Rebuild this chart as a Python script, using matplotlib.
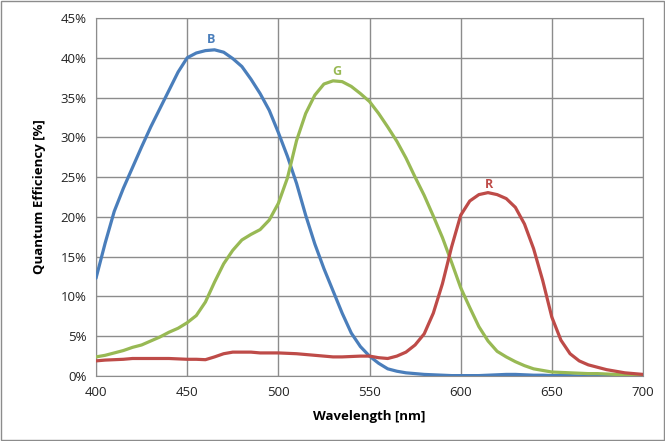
import matplotlib.pyplot as plt
from matplotlib.ticker import FuncFormatter

wavelength = list(range(400, 701, 5))

qe_b = [12.3, 16.7, 20.7, 23.6, 26.2, 28.8, 31.3, 33.6, 35.9, 38.2,
        40.0, 40.6, 40.9, 41.0, 40.7, 39.9, 38.9, 37.3, 35.5, 33.4,
        30.6, 27.6, 24.2, 20.2, 16.6, 13.5, 10.7, 7.9, 5.4, 3.7,
        2.5, 1.6, 0.9, 0.6, 0.4, 0.3, 0.2, 0.15, 0.1, 0.05,
        0.05, 0.05, 0.05, 0.1, 0.15, 0.2, 0.2, 0.15, 0.1, 0.1,
        0.05, 0.05, 0.05, 0.0, 0.0, 0.0, 0.0, 0.0, 0.0, 0.0, 0.0]

qe_g = [2.4, 2.6, 2.9, 3.2, 3.6, 3.9, 4.4, 4.9, 5.5, 6.0,
        6.7, 7.6, 9.3, 11.8, 14.1, 15.8, 17.1, 17.8, 18.4, 19.6,
        21.7, 24.9, 29.6, 33.0, 35.3, 36.7, 37.1, 37.0, 36.4, 35.5,
        34.5, 33.0, 31.3, 29.5, 27.4, 25.0, 22.7, 20.1, 17.4, 14.3,
        11.1, 8.6, 6.2, 4.4, 3.1, 2.4, 1.8, 1.3, 0.9, 0.7,
        0.5, 0.45, 0.4, 0.35, 0.3, 0.3, 0.25, 0.2, 0.15, 0.1, 0.1]

qe_r = [1.9, 2.0, 2.05, 2.1, 2.2, 2.2, 2.2, 2.2, 2.2, 2.15,
        2.1, 2.1, 2.05, 2.4, 2.8, 3.0, 3.0, 3.0, 2.9, 2.9,
        2.9, 2.85, 2.8, 2.7, 2.6, 2.5, 2.4, 2.4, 2.45, 2.5,
        2.5, 2.3, 2.2, 2.5, 3.0, 3.9, 5.3, 7.9, 11.6, 16.2,
        20.2, 22.0, 22.8, 23.05, 22.8, 22.3, 21.2, 19.1, 16.0, 12.0,
        7.4, 4.5, 2.8, 1.9, 1.4, 1.1, 0.8, 0.6, 0.4, 0.3, 0.2]

labels = ['B', 'G', 'R']
label_pos = [(463, 41.5), (532, 37.5), (615.5, 23.3)]
colors = ['#4A7EBB', '#98B954', '#BE4B48']

plt.rcParams['font.family'] = ['Open Sans', 'DejaVu Sans']

fig = plt.figure(figsize=(6.65, 4.41), dpi=100)
ax = fig.add_axes([0.1444, 0.1474, 0.8225, 0.8118])

for series, c in zip([qe_b, qe_g, qe_r], colors):
    ax.plot(wavelength, series, color=c, linewidth=2.3, solid_capstyle='round',
            solid_joinstyle='round', zorder=3)

for lab, (x, y), c in zip(labels, label_pos, colors):
    ax.text(x, y, lab, color=c, fontsize=9, fontweight='bold', ha='center', va='bottom')

ax.set_xlim(400, 700)
ax.set_ylim(0, 45)
ax.set_xticks(range(400, 701, 50))
ax.set_yticks(range(0, 46, 5))
ax.yaxis.set_major_formatter(FuncFormatter(lambda v, p: f'{int(v)}%'))
ax.grid(True, color='#8C8C8C', linewidth=1.0)
ax.set_axisbelow(True)
for s in ax.spines.values():
    s.set_color('#8C8C8C')
ax.tick_params(length=0, labelsize=9.5, pad=7, colors='#222222')
ax.set_xlabel('Wavelength [nm]', fontsize=9.5, fontweight='bold', labelpad=8)
ax.set_ylabel('Quantum Efficiency [%]', fontsize=9.5, fontweight='bold', labelpad=10)

fig.patches.append(plt.Rectangle((0.002, 0.002), 0.996, 0.996, transform=fig.transFigure,
                                 fill=False, edgecolor='#8C8C8C', linewidth=1.0))

plt.savefig('out.png', dpi=100)
